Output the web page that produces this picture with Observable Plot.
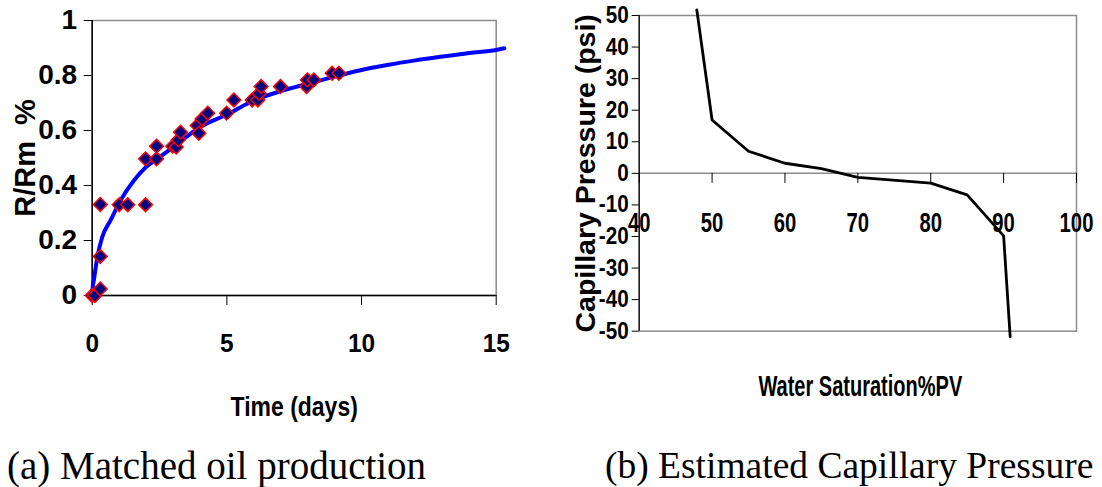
<!DOCTYPE html>
<html><head><meta charset="utf-8">
<script src="https://cdn.jsdelivr.net/npm/d3@7"></script>
<script src="https://cdn.jsdelivr.net/npm/@observablehq/plot@0.6"></script>
<style>
html,body{margin:0;padding:0;background:#fff;}
#wrap{position:relative;width:1102px;height:487px;overflow:hidden;background:#fff;}
#pa{position:absolute;left:0;top:0;}
#pb{position:absolute;left:540px;top:0;}
.cap{position:absolute;font-family:"Liberation Serif","Times New Roman",serif;line-height:1;white-space:nowrap;color:#000;}
svg text{white-space:pre;}
</style></head>
<body>
<div id="wrap">
  <div id="pa"></div>
  <div id="pb"></div>
  <div class="cap" id="capA" style="left:7px;top:446px;font-size:39px;"></div>
  <div class="cap" id="capB" style="left:605px;top:447px;font-size:37.5px;"></div>
</div>
<script>
// ---- Panel (a): matched oil production ----
const timeDays = [0, 0.1, 0.3, 0.3, 0.3, 1.0, 1.32, 1.98, 1.98, 2.39, 2.39, 2.99, 3.12, 3.2, 3.28, 3.9, 3.96, 4.08, 4.29, 4.99, 5.26, 5.94, 6.15, 6.2, 6.27, 6.99, 7.96, 7.99, 8.23, 8.91, 9.16];
const rOverRm  = [0, 0, 0.024, 0.142, 0.331, 0.33, 0.33, 0.33, 0.497, 0.497, 0.543, 0.543, 0.54, 0.566, 0.594, 0.618, 0.59, 0.642, 0.663, 0.663, 0.711, 0.711, 0.711, 0.735, 0.76, 0.76, 0.76, 0.784, 0.784, 0.808, 0.808];
const fitTime  = [0, 0.02, 0.06, 0.19, 0.37, 0.68, 1.05, 1.55, 2, 2.5, 3, 4, 5, 6, 7, 8, 9, 10, 11, 12, 13, 14, 15, 15.3];
const fitR     = [0, 0.03, 0.055, 0.139, 0.212, 0.273, 0.345, 0.418, 0.467, 0.503, 0.539, 0.612, 0.658, 0.709, 0.743, 0.77, 0.796, 0.82, 0.839, 0.855, 0.869, 0.882, 0.893, 0.899];
const xTicksA = [0, 5, 10, 15];
const yTicksA = [0, 0.2, 0.4, 0.6, 0.8, 1];
const xDomA = [0, 15];
const yDomA = [0, 1];
const xTitleA = "Time (days)";
const yTitleA = "R/Rm  %";
const captionA = "(a) Matched oil production";

// ---- Panel (b): estimated capillary pressure ----
const waterSat = [47.9, 50, 55, 60, 65, 70, 80, 85, 90, 90.9];
const capPress = [51.8, 16.9, 7, 3.2, 1.5, -1.3, -3.1, -6.8, -19.8, -51.7];
const xTicksB = [40, 50, 60, 70, 80, 90, 100];
const yTicksB = [-50, -40, -30, -20, -10, 0, 10, 20, 30, 40, 50];
const xDomB = [40, 100];
const yDomB = [-50, 50];
const xTitleB = "Water Saturation%PV";
const yTitleB = "Capillary Pressure (psi)";
const captionB = "(b) Estimated Capillary Pressure";

const font = '"Liberation Sans", Arial, Helvetica, sans-serif';
const baseStyle = {fontFamily: font, fontWeight: "bold", color: "#000", background: "#fff", overflow: "visible"};

const obs = timeDays.map((t, i) => ({t, r: rOverRm[i]}));
const fit = fitTime.map((t, i) => ({t, r: fitR[i]}));

const A = Plot.plot({
  width: 540, height: 425,
  marginLeft: 91.7, marginRight: 44.3, marginTop: 20, marginBottom: 130,
  style: baseStyle,
  x: {domain: xDomA},
  y: {domain: yDomA},
  marks: [
    Plot.frame({stroke: "#8c8c8c", strokeWidth: 1.5}),
    Plot.axisX({ticks: xTicksA, tickFormat: d => String(d), tickSize: 10, tickPadding: 28, fontSize: 26.5, fontWeight: "bold", label: null}),
    Plot.axisY({ticks: yTicksA, tickFormat: d => String(d), tickSize: 8, tickPadding: 7, fontSize: 28, fontWeight: "bold", label: null}),
    Plot.ruleX([xDomA[0]], {stroke: "#000", strokeWidth: 1.5}),
    Plot.ruleY([yDomA[0]], {stroke: "#000", strokeWidth: 1.5}),
    Plot.line(fit, {x: "t", y: "r", stroke: "#0000ff", strokeWidth: 4, curve: "monotone-x"}),
    Plot.dot(obs, {x: "t", y: "r", symbol: "diamond2", r: 6.2, fill: "#000080", stroke: "#ff0000", strokeWidth: 1.5}),
    Plot.text([xTitleA], {text: d => d, frameAnchor: "bottom", lineAnchor: "bottom", textAnchor: "middle", dy: 120, fontSize: 28, fontWeight: "bold"}),
    Plot.text([yTitleA], {text: d => d, frameAnchor: "left", rotate: -90, textAnchor: "middle", lineAnchor: "bottom", dx: -56.7, fontSize: 29, fontWeight: "bold"})
  ]
});
document.getElementById("pa").appendChild(A);

const cp = waterSat.map((s, i) => ({s, p: capPress[i]}));
const hB = 425, mtB = 15, mbB = 94.3;
const innerB = hB - mtB - mbB;
const zeroShift = innerB * (0 - yDomB[0]) / (yDomB[1] - yDomB[0]);

const B = Plot.plot({
  width: 562, height: hB,
  marginLeft: 98.7, marginRight: 26, marginTop: mtB, marginBottom: mbB,
  style: baseStyle,
  x: {domain: xDomB},
  y: {domain: yDomB},
  marks: [
    Plot.frame({stroke: "#8c8c8c", strokeWidth: 1.5}),
    Plot.ruleY([0], {stroke: "#8c8c8c", strokeWidth: 1.5}),
    Plot.ruleX([xDomB[0]], {stroke: "#000", strokeWidth: 1.2}),
    Plot.axisX({ticks: xTicksB, tickFormat: d => String(d), tickSize: 10, tickPadding: 29, fontSize: 27, fontWeight: "bold", label: null, dy: -zeroShift}),
    Plot.axisY({ticks: yTicksB, tickFormat: d => String(d), tickSize: 7, tickPadding: 3.5, fontSize: 23.5, fontWeight: "bold", label: null}),
    Plot.line(cp, {x: "s", y: "p", stroke: "#000", strokeWidth: 2.8}),
    Plot.text([xTitleB], {text: d => d, frameAnchor: "bottom", lineAnchor: "bottom", textAnchor: "middle", dy: 64.3, dx: 2.5, fontSize: 29, fontWeight: "bold"}),
    Plot.text([yTitleB], {text: d => d, frameAnchor: "left", rotate: -90, textAnchor: "middle", lineAnchor: "bottom", dx: -44.7, fontSize: 28.5, fontWeight: "bold"})
  ]
});
document.getElementById("pb").appendChild(B);

// horizontally condensed glyphs, as in the original figure
function condense(sel, factor) {
  sel.each(function () {
    const w = this.getComputedTextLength();
    if (w > 0) {
      this.setAttribute("textLength", (w * factor).toFixed(2));
      this.setAttribute("lengthAdjust", "spacingAndGlyphs");
    }
  });
}
const byText = (svg, label) => d3.select(svg).selectAll("text").filter(function () { return this.textContent === label; });
condense(d3.select(A).selectAll('g[aria-label="x-axis tick label"] text'), 0.92);
condense(d3.select(B).selectAll('g[aria-label="x-axis tick label"] text'), 0.75);
condense(d3.select(B).selectAll('g[aria-label="y-axis tick label"] text'), 0.88);
condense(byText(A, xTitleA), 0.82);
condense(byText(B, xTitleB), 0.69);

document.getElementById("capA").textContent = captionA;
document.getElementById("capB").textContent = captionB;
</script>
</body></html>
